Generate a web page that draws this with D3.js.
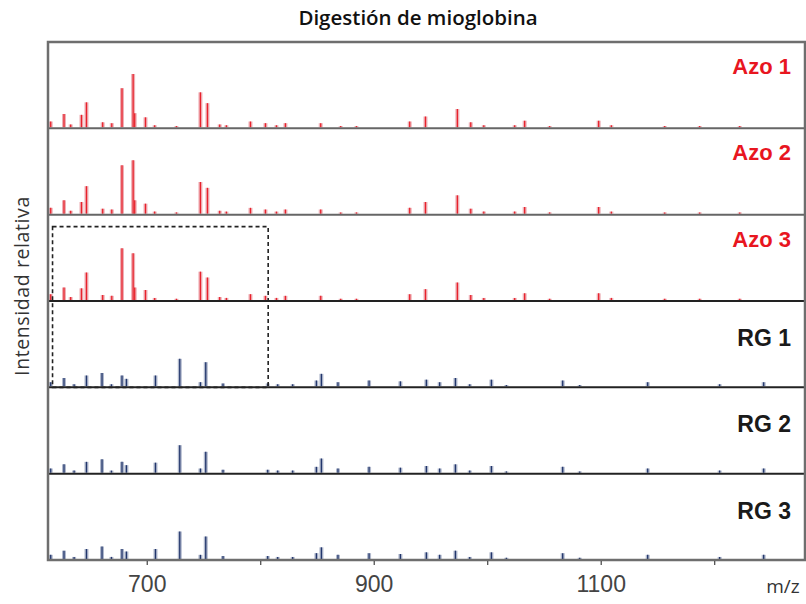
<!DOCTYPE html>
<html>
<head>
<meta charset="utf-8">
<script src="https://cdn.jsdelivr.net/npm/d3@7"></script>
<style>
  body { margin: 0; background: #fff; }
  svg { display: block; }
</style>
</head>
<body>
<div id="chart"></div>
<script>
// peak positions (m/z) and relative intensities (% of panel height)
const azoMz = [615.4, 627.1, 633, 642.5, 646.9, 661.2, 669.2, 678.2, 688, 689.4, 698.9, 707, 726.2, 747.3, 753.5, 764.3, 770.2, 791.4, 804.6, 814.3, 822.2, 853.3, 870.9, 884.8, 931.7, 945.6, 973.7, 985.5, 997, 1024.2, 1033, 1055, 1098.2, 1109.4, 1156.4, 1187.2, 1222.5]
const azo1 = [7, 16, 3.5, 15, 30, 6, 5, 47, 64, 17, 12, 2.5, 1.5, 42, 29, 3.5, 2.5, 7, 5, 2.5, 5, 5, 1.5, 1.5, 7, 13, 22, 6, 2.5, 2.5, 8, 1.5, 8, 2.5, 1.5, 1.5, 1.5]
const azo2 = [7, 16, 3.5, 14, 33, 6, 5, 58, 64, 16, 12, 2.5, 1.5, 38, 31, 3.5, 2.5, 7, 5, 2.5, 5, 5, 1.5, 1.5, 7, 14, 22, 6, 2.5, 2.5, 8, 1.5, 8, 2.5, 1.5, 1.5, 1.5]
const azo3 = [7, 15, 3.5, 14, 33, 6, 5, 62, 56, 15, 12, 2.5, 1.5, 34, 27, 3.5, 2.5, 7, 5, 2.5, 5, 5, 1.5, 1.5, 7, 13, 21, 6, 2.5, 2.5, 8, 1.5, 8, 2.5, 1.5, 1.5, 1.5]

const rgMz = [615.4, 627.1, 636, 646.9, 660.6, 668.9, 678.2, 682.1, 707.7, 729.1, 747.3, 752, 767.2, 806.6, 815.4, 828.6, 849.5, 853.9, 868.5, 895.9, 923.5, 946.4, 958.1, 972, 984.6, 1003.7, 1016.9, 1066.5, 1081.5, 1141.4, 1204.8, 1243.6]
const rg1 = [5, 10, 2.5, 13, 16, 2.5, 13, 9, 13, 33, 5, 29, 3.5, 3.5, 2.5, 2.5, 7, 15, 5, 7, 6, 8, 5, 10, 2.5, 8, 1.5, 7, 1.5, 5, 2.5, 5]
const rg2 = [5, 10, 2.5, 13, 16, 2.5, 13, 9, 12, 33, 5, 25, 3.5, 3.5, 2.5, 2.5, 7, 17, 5, 7, 6, 8, 5, 10, 2.5, 8, 1.5, 7, 1.5, 5, 2.5, 5]
const rg3 = [5, 10, 2.5, 12, 15, 2.5, 12, 9, 12, 33, 5, 27, 3.5, 3.5, 2.5, 2.5, 7, 14, 5, 7, 6, 8, 5, 10, 2.5, 8, 1.5, 7, 1.5, 5, 2.5, 5]

const panelNames = ["Azo 1", "Azo 2", "Azo 3", "RG 1", "RG 2", "RG 3"]
const xTicks = [700, 900, 1100]
const xMinorTicks = [800, 1000, 1200]
const zoomBox = [617, 807]   // dashed box, m/z range

const panels = [
  {name: panelNames[0], mz: azoMz, vals: azo1, type: "azo"},
  {name: panelNames[1], mz: azoMz, vals: azo2, type: "azo"},
  {name: panelNames[2], mz: azoMz, vals: azo3, type: "azo"},
  {name: panelNames[3], mz: rgMz, vals: rg1, type: "rg"},
  {name: panelNames[4], mz: rgMz, vals: rg2, type: "rg"},
  {name: panelNames[5], mz: rgMz, vals: rg3, type: "rg"}
]

const width = 806, height = 604
const mLeft = 48, mRight = 805, mTop = 42, mBottom = 560
const panelH = (mBottom - mTop) / panels.length

const svg = d3.select("#chart").append("svg")
  .attr("width", width)
  .attr("height", height)

const x = d3.scaleLinear().domain([613, 1280]).range([mLeft, mRight])

const colors = {
  azo: {halo: "#eeb0b6", core: "#e8222c", label: "#e8161f"},
  rg: {halo: "#b0b8cc", core: "#22366c", label: "#1a1a1a"}
}

panels.forEach((p, i) => {
  let y0 = mTop + panelH * (i + 1)
  let y = d3.scaleLinear().domain([0, 100]).range([y0 - 1, y0 - panelH + 2])
  p.y = y
  let g = svg.append("g")
  let c = colors[p.type]
  let data = p.mz.map((m, k) => ({mz: m, v: p.vals[k]}))

  g.selectAll(".halo")
    .data(data)
    .enter()
    .append("line")
    .attr("x1", d => x(d.mz)).attr("x2", d => x(d.mz))
    .attr("y1", y(0)).attr("y2", d => y(d.v))
    .attr("stroke", c.halo)
    .attr("stroke-width", 4)

  g.selectAll(".core")
    .data(data)
    .enter()
    .append("line")
    .attr("x1", d => x(d.mz)).attr("x2", d => x(d.mz))
    .attr("y1", y(0)).attr("y2", d => y(d.v))
    .attr("stroke", c.core)
    .attr("stroke-width", 1.3)

  // baseline of the panel
  g.append("line")
    .attr("x1", mLeft).attr("x2", mRight)
    .attr("y1", y0).attr("y2", y0)
    .attr("stroke", i == 2 || p.type == "rg" ? "#222" : "#666")
    .attr("stroke-width", 2)

  g.append("text")
    .attr("x", 791)
    .attr("y", y0 - panelH + (p.type == "azo" ? 32 : 45))
    .attr("text-anchor", "end")
    .attr("font-family", "Liberation Sans, Arial, sans-serif")
    .attr("font-weight", "bold")
    .attr("font-size", p.type == "azo" ? 22 : 23)
    .attr("fill", c.label)
    .text(p.name)
})

// outer frame
svg.append("rect")
  .attr("x", mLeft).attr("y", mTop)
  .attr("width", mRight - mLeft).attr("height", mBottom - mTop)
  .attr("fill", "none")
  .attr("stroke", "#6e6e6e")
  .attr("stroke-width", 2.5)

// dashed zoom box
let yTopBox = panels[2].y(88)
let yBotBox = panels[3].y(0) + 1
svg.append("rect")
  .attr("x", x(zoomBox[0])).attr("y", yTopBox)
  .attr("width", x(zoomBox[1]) - x(zoomBox[0]))
  .attr("height", yBotBox - yTopBox)
  .attr("fill", "none")
  .attr("stroke", "#222")
  .attr("stroke-width", 1.6)
  .attr("stroke-dasharray", "4,3")

// x axis
let xAxis = d3.axisBottom(x)
  .tickValues(xTicks.concat(xMinorTicks))
  .tickSize(4)
  .tickFormat(d => xTicks.includes(d) ? d : "")
let ax = svg.append("g")
  .attr("transform", "translate(0," + (mBottom + 1) + ")")
  .call(xAxis)
ax.select(".domain").remove()
ax.selectAll("line").attr("stroke", "#444").attr("stroke-width", 1.2)
ax.selectAll("text")
  .attr("dy", 0)
  .attr("y", 31)
  .attr("font-family", "Liberation Sans, Arial, sans-serif")
  .attr("font-size", 23)
  .attr("fill", "#444")

svg.append("text")
  .attr("x", 783).attr("y", 593)
  .attr("text-anchor", "middle")
  .attr("font-family", "Open Sans, sans-serif")
  .attr("font-size", 19)
  .attr("fill", "#333")
  .text("m/z")

// title
svg.append("text")
  .attr("x", 418).attr("y", 25)
  .attr("text-anchor", "middle")
  .attr("font-family", "Open Sans, sans-serif")
  .attr("font-weight", 600)
  .attr("font-size", 20.5)
  .attr("fill", "#111")
  .text("Digestión de mioglobina")

// y label
svg.append("text")
  .attr("transform", "translate(29,286) rotate(-90)")
  .attr("text-anchor", "middle")
  .attr("font-family", "Open Sans, sans-serif")
  .attr("font-size", 19.5)
  .attr("letter-spacing", 0.6)
  .attr("fill", "#333")
  .text("Intensidad relativa")
</script>
</body>
</html>
